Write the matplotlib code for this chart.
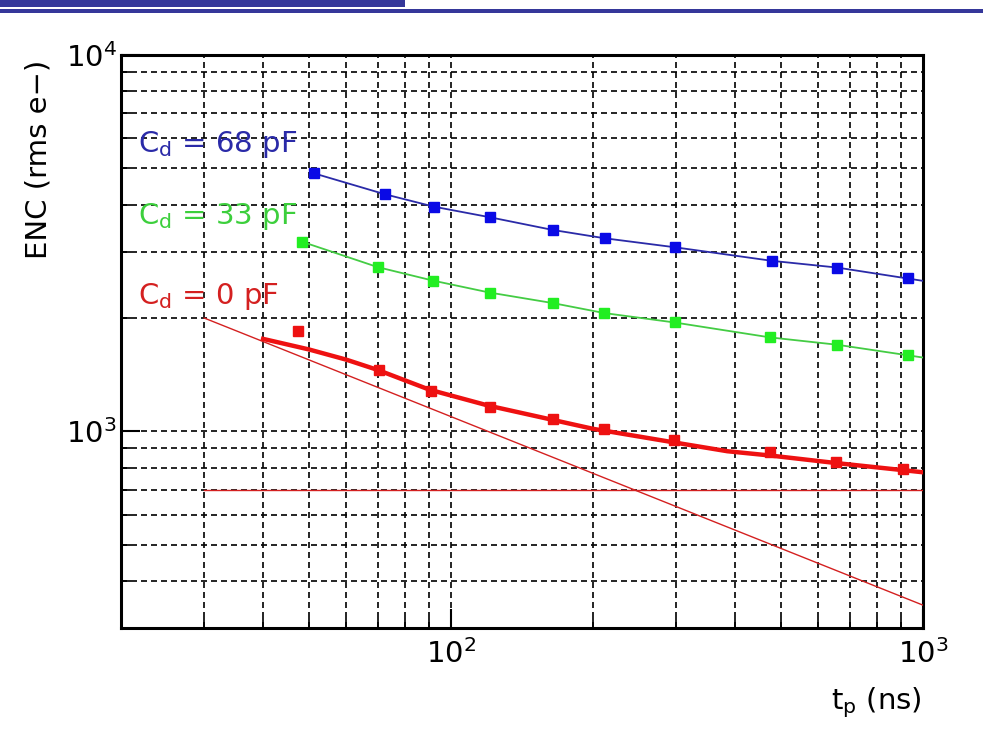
import matplotlib
matplotlib.use("Agg")
import matplotlib.pyplot as plt
from matplotlib.patches import Rectangle
from matplotlib.ticker import FixedLocator, NullFormatter

plt.rcParams['font.family'] = ['DejaVu Sans']
plt.rcParams['mathtext.fontset'] = 'dejavusans'

# ---------------- data ----------------
t_68 = [51.3, 72.5, 92.0, 120.9, 164.3, 211.6, 297.6, 479.4, 658, 929.5]
enc_68 = [4846, 4264, 3953, 3705, 3428, 3258, 3084, 2837, 2723, 2552]
fit_t_68 = [51.3, 72.5, 92.0, 120.9, 164.3, 211.6, 297.6, 479.4, 658, 1000]
fit_68 = [4846, 4264, 3953, 3705, 3428, 3258, 3084, 2837, 2723, 2510]

t_33 = [48.3, 70.0, 91.5, 120.7, 164.4, 211.4, 297.6, 474.4, 658, 930]
enc_33 = [3191, 2730, 2515, 2337, 2191, 2061, 1946, 1776, 1698, 1591]
fit_t_33 = [48.3, 70.0, 91.5, 120.7, 164.4, 211.4, 297.6, 474.4, 658, 1000]
fit_33 = [3191, 2730, 2515, 2337, 2191, 2061, 1946, 1776, 1698, 1570]

t_0 = [47.4, 70.3, 90.7, 121.1, 164.8, 211.0, 296.9, 474, 653, 909]
enc_0 = [1850, 1458, 1277, 1161, 1079, 1015, 950, 880, 828, 796]
fit_t_0 = [40, 50, 60, 70, 90, 120, 200, 300, 385, 475, 650, 1000]
fit_0 = [1760, 1650, 1550, 1455, 1290, 1170, 1015, 932, 885, 862, 824, 778]

series_t = [30, 1000]          # series-noise asymptote
series_enc = [2000, 345]
white_t = [30, 1000]           # flat-noise asymptote
white_enc = [700, 700]

labels = [r"C$_\mathrm{d}$ = 68 pF", r"C$_\mathrm{d}$ = 33 pF", r"C$_\mathrm{d}$ = 0 pF"]
x_major = [100, 1000]
y_major = [1000, 10000]
x_minor = [30, 40, 50, 60, 70, 80, 90, 200, 300, 400, 500, 600, 700, 800, 900]
y_minor = [400, 500, 600, 700, 800, 900, 2000, 3000, 4000, 5000, 6000, 7000, 8000, 9000]
x_labels = [r"$10^{2}$", r"$10^{3}$"]
y_labels = [r"$10^{3}$", r"$10^{4}$"]

# ---------------- figure ----------------
W, H = 983, 731
fig = plt.figure(figsize=(W / 100, H / 100), dpi=100)
fig.patch.set_facecolor('white')

hdr = '#35379a'
fig.add_artist(Rectangle((0, 1 - 7 / H), 405 / W, 7 / H, transform=fig.transFigure,
                         color=hdr, lw=0))
fig.add_artist(Rectangle((0, 1 - 13 / H), 1, 4.5 / H, transform=fig.transFigure,
                         color=hdr, lw=0))

ax = fig.add_axes([121 / W, 1 - 628 / H, (923 - 121) / W, (628 - 55) / H])
ax.set_xscale('log')
ax.set_yscale('log')
ax.set_xlim(20, 1000)
ax.set_ylim(300, 10000)

blue_m, blue_l = '#0a0ae6', '#2a2aa8'
green_m, green_l = '#22ee22', '#44cc44'
red_m, red_l = '#ee1111', '#d42020'

# grid
for xv in x_major + x_minor:
    ax.axvline(xv, color='black', lw=1.2, ls=(0, (3.6, 2.4)), zorder=1)
for yv in y_major + y_minor:
    ax.axhline(yv, color='black', lw=1.2, ls=(0, (3.6, 2.4)), zorder=1)

ax.plot(series_t, series_enc, color=red_l, lw=1.0, zorder=3)
ax.plot(white_t, white_enc, color=red_l, lw=1.0, zorder=3)
ax.plot(fit_t_0, fit_0, color=red_m, lw=3.2, zorder=3)
ax.plot(fit_t_68, fit_68, color=blue_l, lw=1.3, zorder=3)
ax.plot(fit_t_33, fit_33, color=green_l, lw=1.3, zorder=3)

ax.plot(t_68, enc_68, ls='none', marker='s', ms=7.5, color=blue_m, mec=blue_m, zorder=4)
ax.plot(t_33, enc_33, ls='none', marker='s', ms=7.5, color=green_m, mec=green_m, zorder=4)
ax.plot(t_0, enc_0, ls='none', marker='s', ms=7.5, color=red_m, mec=red_m, zorder=4)

# ticks
ax.xaxis.set_major_locator(FixedLocator(x_major))
ax.yaxis.set_major_locator(FixedLocator(y_major))
ax.xaxis.set_minor_locator(FixedLocator(x_minor))
ax.yaxis.set_minor_locator(FixedLocator(y_minor))
ax.set_xticklabels(x_labels)
ax.set_yticklabels(y_labels)
ax.xaxis.set_minor_formatter(NullFormatter())
ax.yaxis.set_minor_formatter(NullFormatter())
ax.tick_params(which='major', direction='in', length=14, width=1.5, labelsize=21, pad=8)
ax.tick_params(which='minor', direction='in', length=7, width=1.2)
ax.tick_params(axis='y', which='major', pad=3)
for s in ax.spines.values():
    s.set_linewidth(2.2)

# axis titles
fig.text(39 / W, 1 - 159 / H, "ENC (rms e\u2212)", rotation=90, ha='center', va='center',
         fontsize=21)
fig.text(922 / W, 1 - 703 / H, r"t$_\mathrm{p}$ (ns)", ha='right', va='center', fontsize=21)

# curve labels
ys = [144, 217, 296]
cols = [blue_l, '#3ccf3c', '#d42020']
for lab, yy, cc in zip(labels, ys, cols):
    fig.text(138 / W, 1 - yy / H, lab, ha='left', va='center', fontsize=21, color=cc)

fig.savefig('out.png', dpi=100)
